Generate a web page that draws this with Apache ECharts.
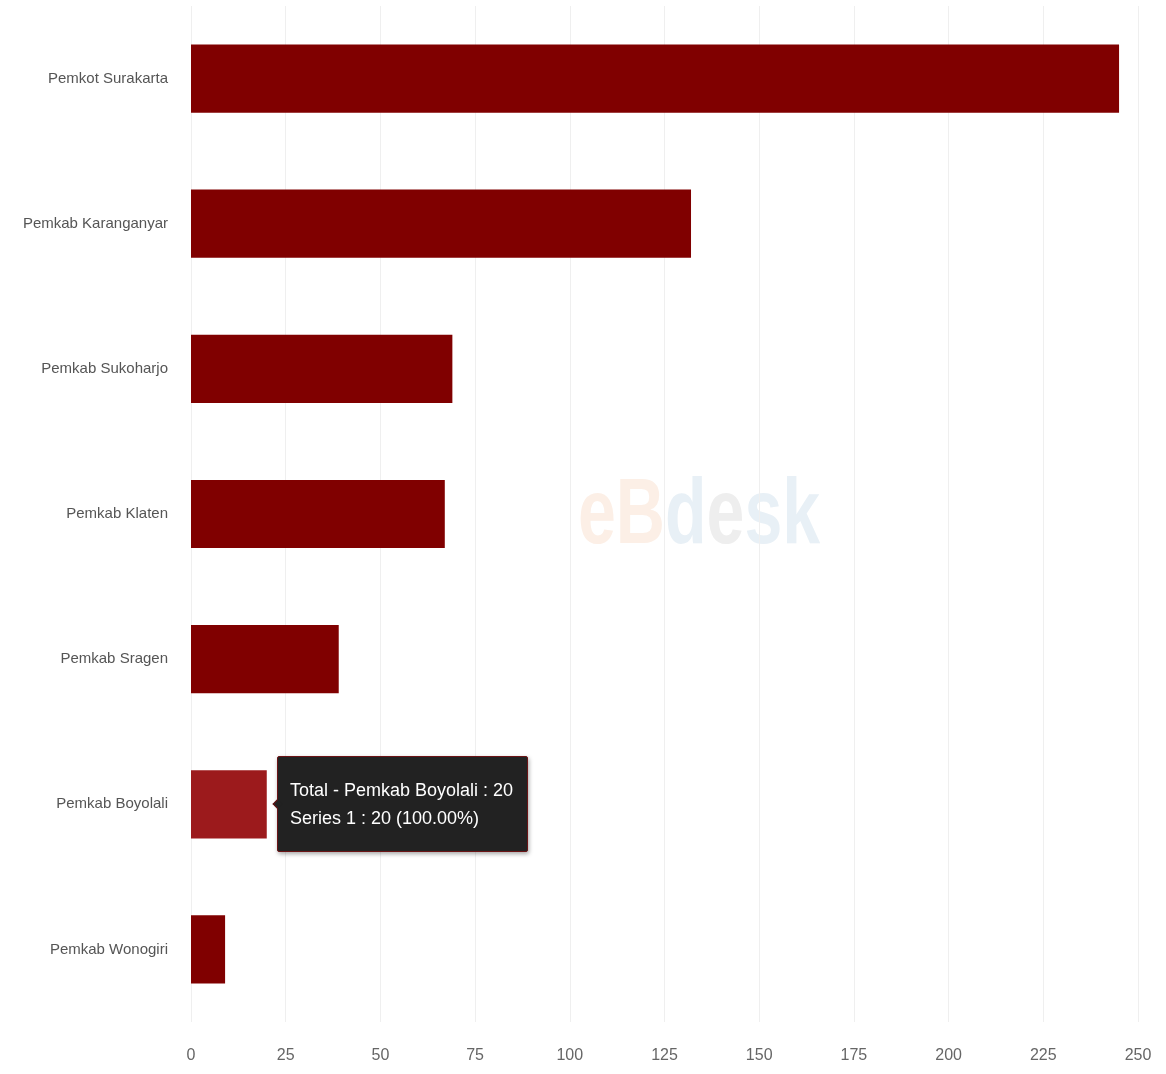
<!DOCTYPE html>
<html>
<head>
<meta charset="utf-8">
<title>Pemkab / Pemkot</title>
<script src="https://cdn.jsdelivr.net/npm/echarts@6/dist/echarts.min.js"></script>
<style>
  html, body { margin: 0; padding: 0; background: #ffffff; }
  #chart { width: 1166px; height: 1074px; }
</style>
</head>
<body>
<div id="chart"></div>
<script>
// Regions, listed top to bottom as drawn
const categories = [
  'Pemkot Surakarta',
  'Pemkab Karanganyar',
  'Pemkab Sukoharjo',
  'Pemkab Klaten',
  'Pemkab Sragen',
  'Pemkab Boyolali',
  'Pemkab Wonogiri'
];
const totals = [245, 132, 69, 67, 39, 20, 9];
const xTicks = [0, 25, 50, 75, 100, 125, 150, 175, 200, 225, 250];
const seriesName = 'Series 1';
const highlighted = 'Pemkab Boyolali';

const FONT = '"Liberation Sans", Arial, sans-serif';

const chart = echarts.init(document.getElementById('chart'), null, { renderer: 'canvas' });

const barData = categories.map((name, i) => ({
  name: name,
  value: totals[i],
  itemStyle: name === highlighted ? { color: '#9c1a1c' } : undefined
}));

chart.setOption({
  animation: false,
  backgroundColor: '#ffffff',
  grid: {
    left: 191, right: 28, top: 6, bottom: 52,
    containLabel: false,
    outerBoundsMode: 'none'
  },
  graphic: [{
    // faint brand watermark behind the plot
    type: 'text',
    silent: true,
    left: 578,
    top: 472,
    z: -10,
    scaleX: 0.74,
    style: {
      text: '{a|eB}{b|d}{c|e}{b|sk}',
      rich: {
        a: { fontSize: 92, fontWeight: 'bold', fontFamily: FONT, fill: '#fcefe6' },
        b: { fontSize: 92, fontWeight: 'bold', fontFamily: FONT, fill: '#e8f0f6' },
        c: { fontSize: 92, fontWeight: 'bold', fontFamily: FONT, fill: '#eeeeee' }
      }
    }
  }],
  xAxis: {
    type: 'value',
    min: 0,
    max: xTicks[xTicks.length - 1],
    interval: xTicks[1] - xTicks[0],
    axisLine: { show: false },
    axisTick: { show: false },
    axisLabel: { color: '#666666', fontSize: 16, fontFamily: FONT, margin: 26 },
    splitLine: { show: true, lineStyle: { color: '#efefef', width: 1 } }
  },
  yAxis: {
    type: 'category',
    data: categories,
    inverse: true,
    axisLine: { show: false },
    axisTick: { show: false },
    axisLabel: { color: '#555555', fontSize: 15, fontFamily: FONT, margin: 23 },
    splitLine: { show: false }
  },
  tooltip: {
    trigger: 'item',
    alwaysShowContent: true,
    triggerOn: 'none',
    position: 'right',
    backgroundColor: '#222222',
    borderColor: '#6b1416',
    borderWidth: 1,
    padding: [19, 14, 19, 12],
    extraCssText: 'border-radius:2px; box-shadow:1px 2px 4px rgba(0,0,0,0.35); line-height:28px;',
    textStyle: { color: '#ffffff', fontSize: 18, fontFamily: FONT },
    formatter: p => 'Total - ' + p.name + ' : ' + p.value + '<br/>' +
      seriesName + ' : ' + p.value + ' (100.00%)'
  },
  series: [{
    name: seriesName,
    type: 'bar',
    data: barData,
    barWidth: '47%',
    itemStyle: { color: '#800000' },
    emphasis: { disabled: true }
  }]
});

chart.dispatchAction({
  type: 'showTip',
  seriesIndex: 0,
  dataIndex: categories.indexOf(highlighted)
});
</script>
</body>
</html>
